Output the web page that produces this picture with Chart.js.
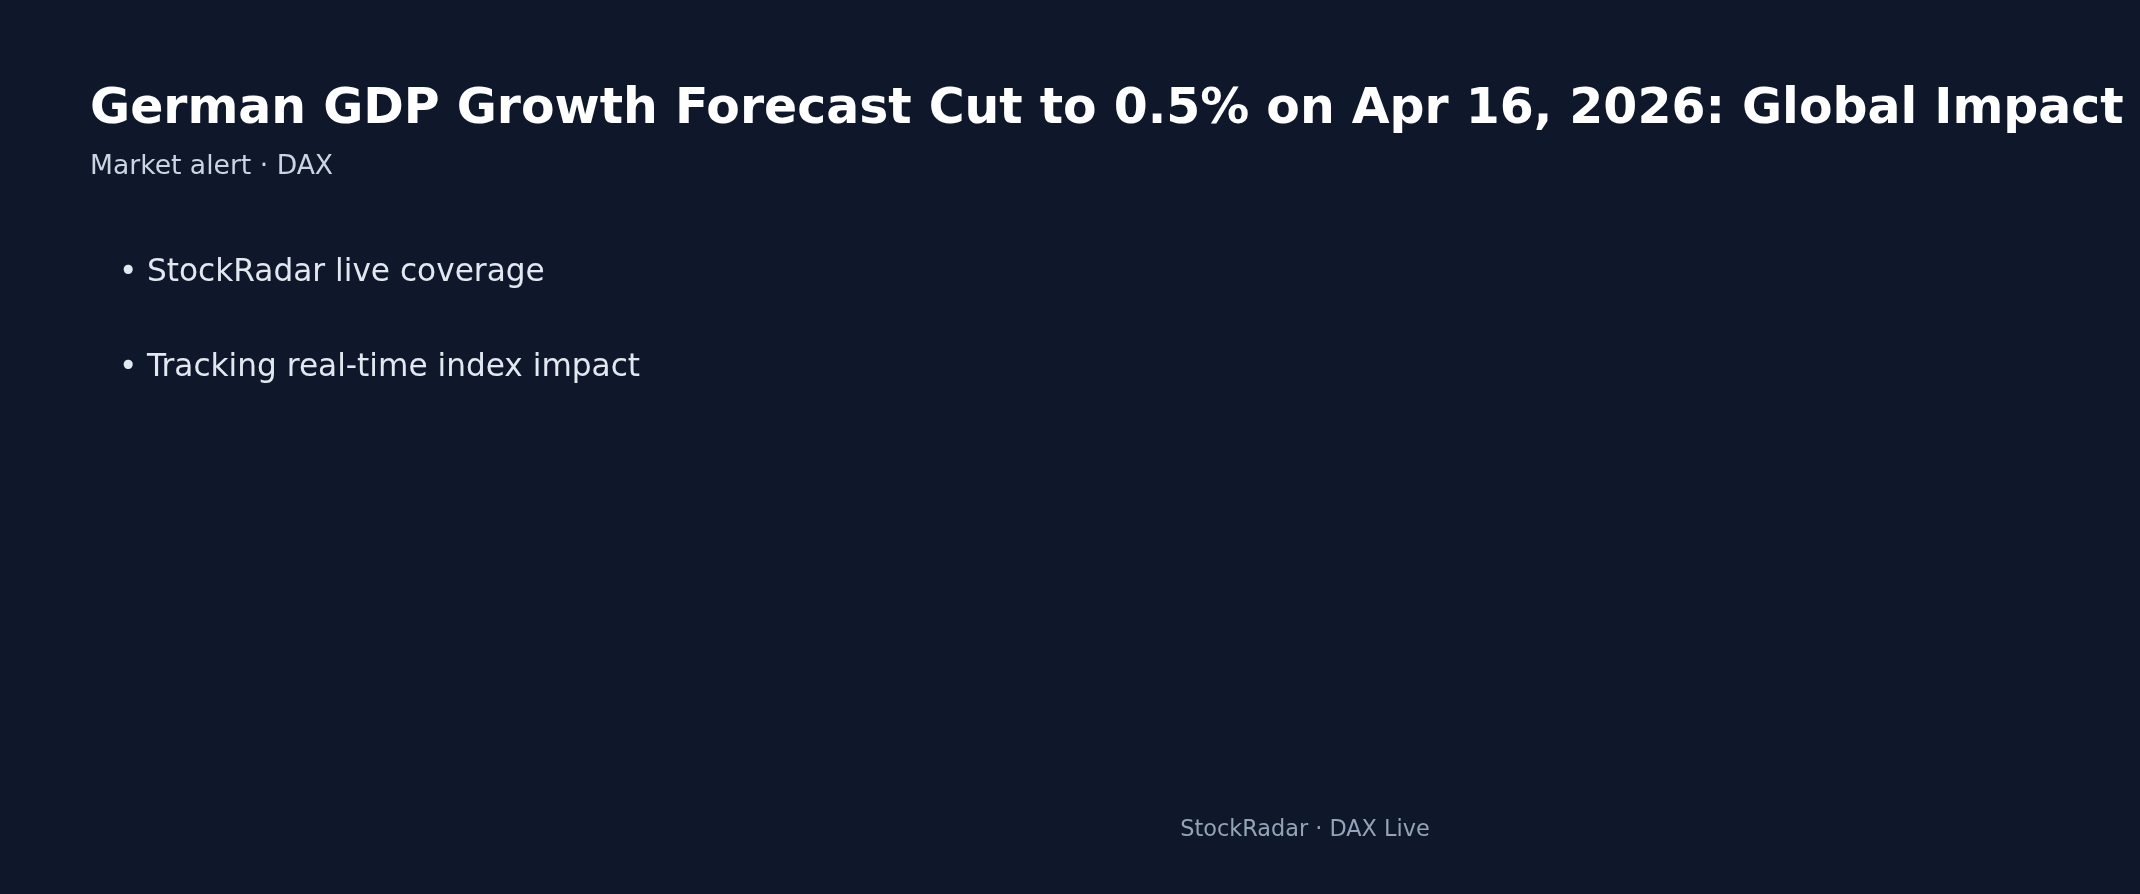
<!DOCTYPE html>
<html lang="en">

<head>
  <meta charset="utf-8">
  <meta name="viewport" content="width=device-width,initial-scale=1.0">
  <script src="https://cdn.jsdelivr.net/npm/chart.js@4.4.1/dist/chart.umd.min.js"></script>
  <title>German GDP Growth Forecast Cut to 0.5% on Apr 16, 2026: Global Impact</title>
</head>

<body>
  <canvas id="alert-chart" width="2140" height="894"></canvas>
</body>

</html>

<style>
  html, body {
    margin: 0;
    padding: 0;
    background: #0f172a;
    overflow: hidden;
  }

  #alert-chart {
    display: block;
  }
</style>

<script>
const titleText = "German GDP Growth Forecast Cut to 0.5% on Apr 16, 2026: Global Impact";
const subtitleText = "Market alert \u00b7 DAX";
const bullets = ["StockRadar live coverage", "Tracking real-time index impact"];
const footerText = "StockRadar \u00b7 DAX Live";

const fontFamily = "'DejaVu Sans', Verdana, sans-serif";

// draws the slide texts on top of an empty chart
const slideText = {
    id: 'slideText',
    beforeDraw(chart) {
        const ctx = chart.ctx;
        ctx.save();
        ctx.fillStyle = '#0f172a';
        ctx.fillRect(0, 0, chart.width, chart.height);
        ctx.textBaseline = 'alphabetic';
        ctx.textAlign = 'left';

        ctx.fillStyle = '#ffffff';
        ctx.font = "bold 48.9px " + fontFamily;
        ctx.fillText(titleText, 90, 123);

        ctx.fillStyle = '#cbd5e1';
        ctx.font = "26.6px " + fontFamily;
        ctx.fillText(subtitleText, 90, 174);

        ctx.fillStyle = '#e2e8f0';
        ctx.font = "31.2px " + fontFamily;
        bullets.forEach((b, i) => {
            const y = 281 + i * 95;
            ctx.fillText("\u2022", 119, y);
            ctx.fillText(b, 147, y);
        });

        ctx.fillStyle = '#94a3b8';
        ctx.font = "22.4px " + fontFamily;
        ctx.textAlign = 'center';
        ctx.fillText(footerText, 1305, 836);
        ctx.restore();
    }
};

const config = {
    type: 'bar',
    data: {
        labels: [],
        datasets: [],
    },
    options: {
        responsive: false,
        animation: false,
        devicePixelRatio: 1,
        scales: {
            x: { display: false },
            y: { display: false },
        },
        plugins: {
            legend: { display: false },
            tooltip: { enabled: false },
        },
    },
    plugins: [slideText],
};

var chart = new Chart(document.getElementById("alert-chart"), config);
</script>
